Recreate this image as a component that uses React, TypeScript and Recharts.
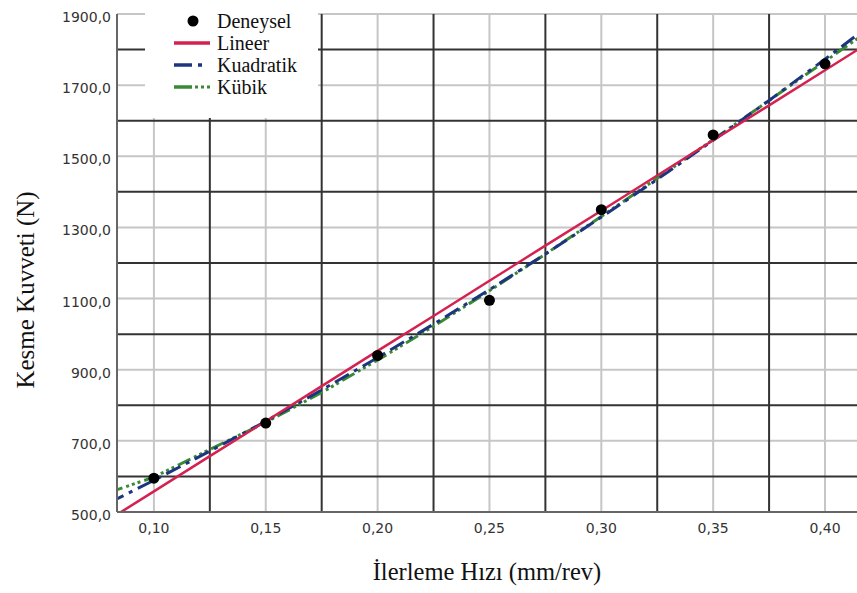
import { ComposedChart, Line, Scatter, XAxis, YAxis, CartesianGrid, Legend } from 'recharts';

const feedRates = [0.1, 0.15, 0.2, 0.25, 0.3, 0.35, 0.4];
const measuredForce = [595, 750, 940, 1095, 1350, 1560, 1760];

const fitFeed = [0.08, 0.1, 0.125, 0.15, 0.175, 0.2, 0.225, 0.25, 0.275, 0.3, 0.325, 0.35, 0.375, 0.4, 0.42];
const linearForce = [479, 558, 657, 755, 854, 953, 1051, 1150, 1249, 1347, 1446, 1545, 1643, 1742, 1821];
const quadraticForce = [526, 589, 671, 755, 843, 934, 1028, 1125, 1225, 1329, 1435, 1545, 1657, 1773, 1868];
const cubicForce = [555, 598, 676, 752, 836, 927, 1022, 1122, 1225, 1331, 1438, 1547, 1657, 1767, 1855];

const xTicks = [0.1, 0.15, 0.2, 0.25, 0.3, 0.35, 0.4];
const xMinorLines = [0.125, 0.175, 0.225, 0.275, 0.325, 0.375];
const yTicks = [500, 700, 900, 1100, 1300, 1500, 1700, 1900];
const yMinorLines = [600, 800, 1000, 1200, 1400, 1600, 1800];

const measured = feedRates.map((x, i) => ({ x, y: measuredForce[i] }));
const linear = fitFeed.map((x, i) => ({ x, y: linearForce[i] }));
const quadratic = fitFeed.map((x, i) => ({ x, y: quadraticForce[i] }));
const cubic = fitFeed.map((x, i) => ({ x, y: cubicForce[i] }));

const series = [
  { name: 'Deneysel', color: '#000', dash: '' },
  { name: 'Lineer', color: '#d42150', dash: '' },
  { name: 'Kuadratik', color: '#1d3480', dash: '16 6 4 6' },
  { name: 'Kübik', color: '#3a8a35', dash: '14 4 3 3 3 3 3 4' },
];

const serif = "'Liberation Serif', 'Times New Roman', serif";
const tickFont = { fontFamily: "'DejaVu Sans', sans-serif", fontSize: 14, fill: '#333' };
const comma = (d: number) => (v: number) => v.toFixed(d).replace('.', ',');

function LegendBox() {
  return (
    <div style={{ paddingTop: 10 }}>
      {series.map((s) => (
        <div key={s.name} style={{ display: 'flex', alignItems: 'center', height: 22 }}>
          <svg width={70} height={22} style={{ flex: 'none' }}>
            {s.name === 'Deneysel' ? (
              <circle cx={48} cy={11} r={5.5} fill="#000" />
            ) : s.name === 'Lineer' ? (
              <line x1={29} x2={65} y1={11} y2={11} stroke={s.color} strokeWidth={3.5} />
            ) : s.name === 'Kuadratik' ? (
              <>
                <line x1={29} x2={47} y1={11} y2={11} stroke={s.color} strokeWidth={3.5} />
                <line x1={53} x2={57} y1={11} y2={11} stroke={s.color} strokeWidth={3.5} />
              </>
            ) : (
              <>
                <line x1={29} x2={47} y1={11} y2={11} stroke={s.color} strokeWidth={3.5} />
                <line x1={50} x2={65} y1={11} y2={11} stroke={s.color} strokeWidth={3} strokeDasharray="3 3" />
              </>
            )}
          </svg>
          <span style={{ marginLeft: 2, fontFamily: serif, fontSize: 20, lineHeight: '22px', color: '#111' }}>{s.name}</span>
        </div>
      ))}
    </div>
  );
}

export default function App() {
  return (
    <div style={{ position: 'absolute', left: 0, top: 0, width: 857, height: 593, background: '#fff' }}>
      <ComposedChart width={857} height={593} margin={{ top: 14, right: 0, bottom: 0, left: 0 }}>
        <CartesianGrid stroke="#c6c6c6" strokeWidth={2} verticalValues={xTicks} horizontalValues={yTicks} />
        <CartesianGrid stroke="#333" strokeWidth={2} verticalValues={xMinorLines} horizontalValues={yMinorLines} />
        <XAxis
          type="number"
          dataKey="x"
          domain={[0.0835, 0.4143]}
          allowDataOverflow
          ticks={xTicks}
          tickFormatter={comma(2)}
          tick={tickFont}
          tickLine={false}
          tickSize={6}
          tickMargin={5}
          axisLine={{ stroke: '#666', strokeWidth: 2 }}
          height={81}
          label={{ value: 'İlerleme Hızı (mm/rev)', position: 'insideBottom', offset: 13, style: { fontFamily: serif, fontSize: 24.5, fill: '#111' } }}
        />
        <YAxis
          type="number"
          dataKey="y"
          domain={[500, 1900]}
          allowDataOverflow
          ticks={yTicks}
          tickFormatter={comma(1)}
          tick={{ ...tickFont, dy: 3 }}
          tickLine={false}
          tickSize={4}
          tickMargin={2}
          axisLine={{ stroke: '#666', strokeWidth: 2 }}
          width={117}
          label={{ value: 'Kesme Kuvveti (N)', angle: -90, position: 'center', dx: -33, dy: 27, style: { fontFamily: serif, fontSize: 25, fill: '#111' } }}
        />
        <Legend
          layout="vertical"
          align="center"
          verticalAlign="middle"
          content={() => <LegendBox />}
          wrapperStyle={{ left: 145, top: 0, width: 173, height: 118, background: '#fff' }}
        />
        <Scatter
          name="Deneysel"
          data={measured}
          fill="#000"
          isAnimationActive={false}
          shape={(p: any) => <circle cx={p.cx} cy={p.cy} r={5.5} fill="#000" />}
        />
        <Line name="Kübik" data={cubic} dataKey="y" type="linear" stroke={series[3].color} strokeWidth={3} strokeDasharray={series[3].dash} dot={false} isAnimationActive={false} />
        <Line name="Kuadratik" data={quadratic} dataKey="y" type="linear" stroke={series[2].color} strokeWidth={3} strokeDasharray={series[2].dash} dot={false} isAnimationActive={false} />
        <Line name="Lineer" data={linear} dataKey="y" type="linear" stroke={series[1].color} strokeWidth={2.5} dot={false} isAnimationActive={false} />
      </ComposedChart>
    </div>
  );
}
